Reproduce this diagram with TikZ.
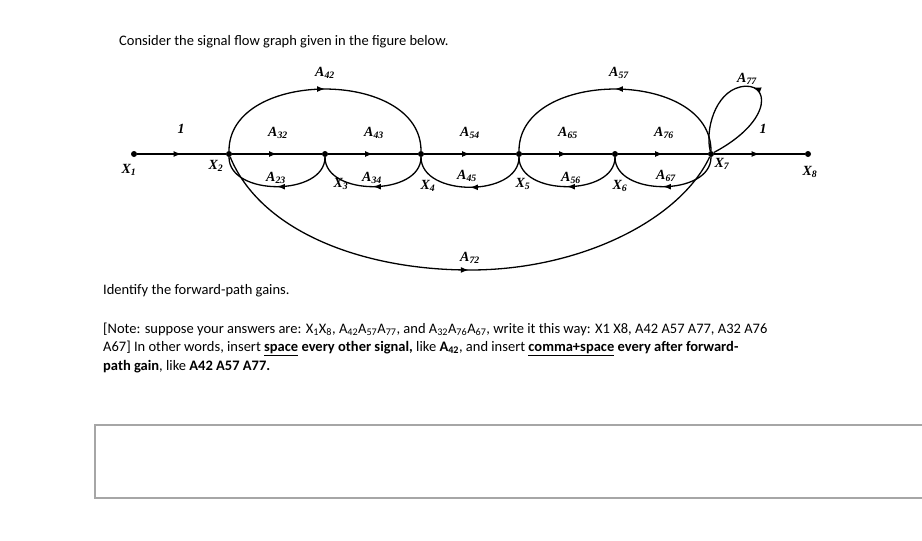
\documentclass[tikz,border=0pt]{standalone}
\usepackage{fontspec}
\setmainfont{Carlito}
\newfontfamily\gfont{Liberation Serif}
\usetikzlibrary{decorations.markings,arrows.meta}
\newcommand{\sbs}[1]{\textsubscript{#1}}
\begin{document}
\begin{tikzpicture}[x=1pt,y=-1pt,
 sig/.style={line width=1.3pt,postaction={decorate},decoration={markings,mark=at position #1 with {\arrow{Latex[length=8pt,width=6pt]}}}},
 sig/.default=0.5,
 dotn/.style={circle,fill,inner sep=0pt,minimum size=6pt},
 gl/.style={font=\gfont\bfseries\itshape\fontsize{14}{16}\selectfont},
 tx/.style={font=\fontsize{14.5}{17}\selectfont,anchor=west,inner sep=0pt}]
\useasboundingbox (0,0) rectangle (922,541);
\foreach \n/\x in {1/134,2/229,3/325,4/421,5/519,6/615,7/711,8/808}
  \node[dotn] (x\n) at (\x,154) {};
\node[tx] (t1) at (119,42) {Consider the signal flow graph given in the figure below.};
\draw[sig] (x1) -- (x2);
\draw[sig] (x2) -- (x3);
\draw[sig] (x3) -- (x4);
\draw[sig] (x4) -- (x5);
\draw[sig] (x5) -- (x6);
\draw[sig] (x6) -- (x7);
\draw[sig] (x7) -- (x8);
\foreach \a/\b in {3/2,4/3,5/4,6/5,7/6}
  \draw[sig] (x\a) to[out=-90,in=-90,looseness=1.05] (x\b);
\draw[sig] (x2) to[out=90,in=90,looseness=1.1] (x4);
\draw[sig] (x7) to[out=90,in=90,looseness=1.1] (x5);
\draw[sig=0.5] (x7) .. controls (775,120) and (770,80) .. (740,87) .. controls (715,93) and (705,130) .. (x7);
\draw[sig=0.5] (x2) .. controls (260,230) and (360,270) .. (470,270) .. controls (580,270) and (680,220) .. (x7);
\node[gl] (l1) at (181,129) {1};
\node[gl] (l2) at (763,129) {1};
\node[gl] (a32) at (278,133) {A\sbs{32}};
\node[gl] (a43) at (374,133) {A\sbs{43}};
\node[gl] (a54) at (470,133) {A\sbs{54}};
\node[gl] (a65) at (568,133) {A\sbs{65}};
\node[gl] (a76) at (664,133) {A\sbs{76}};
\node[gl] (a42) at (325,73) {A\sbs{42}};
\node[gl] (a57) at (619,73) {A\sbs{57}};
\node[gl] (a77) at (747,79) {A\sbs{77}};
\node[gl] (a23) at (276,178) {A\sbs{23}};
\node[gl] (a34) at (372,178) {A\sbs{34}};
\node[gl] (a45) at (467,176) {A\sbs{45}};
\node[gl] (a56) at (571,178) {A\sbs{56}};
\node[gl] (a67) at (666,176) {A\sbs{67}};
\node[gl] (a72) at (470,258) {A\sbs{72}};
\node[gl] (n1) at (129,170) {X\sbs{1}};
\node[gl] (n2) at (216,166) {X\sbs{2}};
\node[gl] (n3) at (341,184) {X\sbs{3}};
\node[gl] (n4) at (428,186) {X\sbs{4}};
\node[gl] (n5) at (523,184) {X\sbs{5}};
\node[gl] (n6) at (620,186) {X\sbs{6}};
\node[gl] (n7) at (722,164) {X\sbs{7}};
\node[gl] (n8) at (810,172) {X\sbs{8}};
\node[tx] (t2) at (103,291) {Identify the forward-path gains.};
\node[tx] (t3) at (103,329) {[Note: suppose your answers are: X\sbs{1}X\sbs{8}, A\sbs{42}A\sbs{57}A\sbs{77}, and A\sbs{32}A\sbs{76}A\sbs{67}, write it this way: X1 X8, A42 A57 A77, A32 A76};
\node[tx] (t4) at (103,348) {A67] In other words, insert \textbf{\underline{space} every other signal,} like \textbf{A\sbs{42}}, and insert \textbf{\underline{comma+space} every after forward-}};
\node[tx] (t5) at (103,367) {\textbf{path gain}, like \textbf{A42 A57 A77.}};
\draw[gray!70,line width=1.2pt] (95,425) rectangle (930,498);
\end{tikzpicture}
\end{document}
